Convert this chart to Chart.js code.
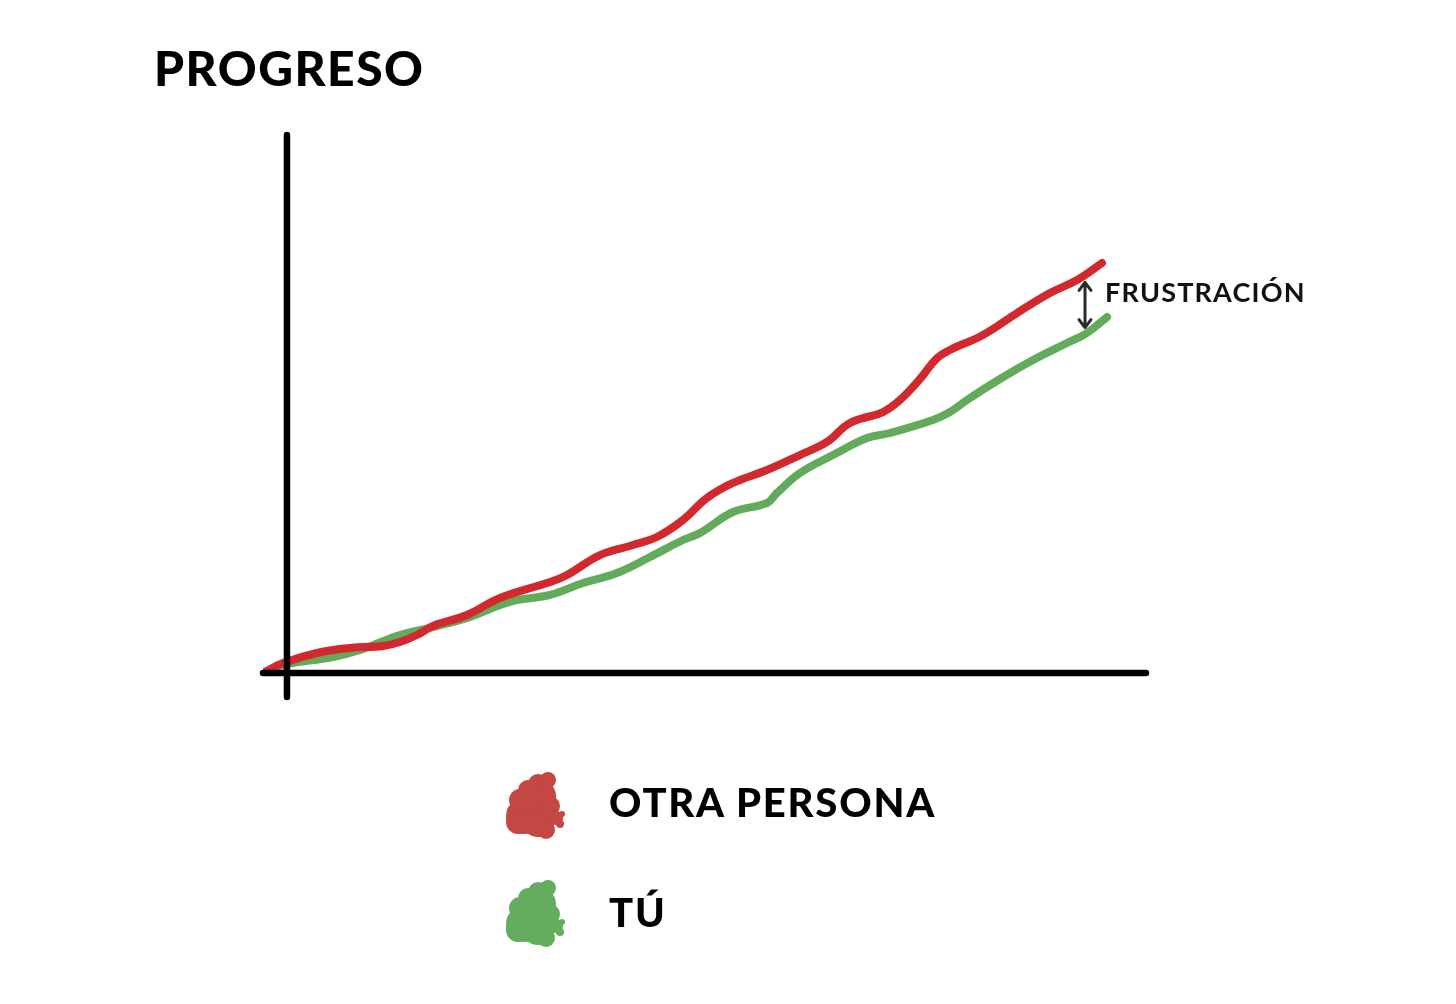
<!DOCTYPE html>
<html>
<head>
<meta charset="utf-8">
<script src="https://cdn.jsdelivr.net/npm/chart.js@4/dist/chart.umd.min.js"></script>
<style>
  html,body{margin:0;padding:0;background:#fff;}
  #wrap{position:relative;width:1456px;height:1004px;overflow:hidden;}
  canvas{position:absolute;left:0;top:0;}
  .txt{position:absolute;font-family:Lato,"Open Sans",sans-serif;color:#000;white-space:nowrap;line-height:1;}
  #title{left:154px;top:44px;font-size:48px;font-weight:900;letter-spacing:1.5px;}
  #annot{left:1105px;top:278px;font-size:27px;font-weight:700;letter-spacing:1.2px;color:#111;}
  .leg{left:609px;font-size:40px;font-weight:900;letter-spacing:1.8px;}
</style>
</head>
<body>
<div id="wrap">
  <canvas id="c" width="1456" height="1004"></canvas>
  <div id="title" class="txt"></div>
  <div id="annot" class="txt"></div>
  <div id="leg0" class="txt leg" style="top:782px"></div>
  <div id="leg1" class="txt leg" style="top:892px"></div>
</div>
<script>
// ---- data ----
const titleText = "PROGRESO";
const annotationText = "FRUSTRACIÓN";
const seriesNames = ["OTRA PERSONA", "TÚ"];

const otherX = [-2.56,-0.47,3.49,7.33,11.18,13.15,15.13,16.99,20.95,24.80,30.62,32.60,36.44,40.28,43.07,46.10,48.89,51.92,55.88,59.72,62.86,65.54,69.38,71.36,73.69,75.67,77.18,81.02,84.98,88.82,91.97,94.88];
const otherY = [0.19,1.86,3.72,4.65,5.02,5.76,7.06,8.74,10.78,13.94,16.91,18.22,21.93,23.79,25.28,28.44,32.53,35.32,37.73,40.52,42.94,46.47,48.51,50.74,54.65,58.55,60.04,62.83,66.91,70.63,73.05,76.21];

const youX = [-2.56,-0.47,5.36,8.50,13.15,17.00,20.95,24.80,26.78,30.62,34.46,38.42,42.26,46.10,48.08,51.92,55.88,57.04,59.72,63.56,67.52,70.20,75.20,77.18,79.16,83.00,86.85,90.80,93.13,95.46];
const youY = [0.19,1.49,2.97,4.28,7.06,8.55,10.22,12.64,13.57,14.50,16.73,18.59,21.56,24.72,26.02,29.93,31.60,33.46,37.17,40.52,43.68,44.61,47.03,48.51,50.74,54.65,58.18,61.34,63.20,66.17];

// gap annotation (x position, from / to values)
const gapX = 92.9;
const gapTop = 72.6;
const gapBottom = 64.2;

// ---- styles ----
const colors = ["#d2292e", "#62aa5c"];
const blobColors = ["#c44744", "#64ad5f"];

document.getElementById('title').textContent = titleText;
document.getElementById('annot').textContent = annotationText;
document.getElementById('leg0').textContent = seriesNames[0];
document.getElementById('leg1').textContent = seriesNames[1];

function pts(xs, ys){ return xs.map((x,i)=>({x:x, y:ys[i]})); }

const axesPlugin = {
  id:'handAxes',
  afterDatasetsDraw(chart){
    const {ctx, chartArea, scales} = chart;
    const x0 = scales.x.getPixelForValue(0);
    const y0 = scales.y.getPixelForValue(0);
    ctx.save();
    ctx.strokeStyle = '#000';
    ctx.lineWidth = 6.5;
    ctx.lineCap = 'round';
    ctx.beginPath();
    ctx.moveTo(x0, chartArea.top);
    ctx.lineTo(x0, chartArea.bottom);
    ctx.moveTo(chartArea.left, y0);
    ctx.lineTo(chartArea.right, y0);
    ctx.stroke();

    // gap arrow
    const ax = scales.x.getPixelForValue(gapX);
    const at = scales.y.getPixelForValue(gapTop);
    const ab = scales.y.getPixelForValue(gapBottom);
    ctx.strokeStyle = '#2a2a2a';
    ctx.lineWidth = 3;
    ctx.lineJoin = 'round';
    ctx.beginPath();
    ctx.moveTo(ax, at); ctx.lineTo(ax, ab);
    ctx.moveTo(ax-6, at+8); ctx.lineTo(ax, at); ctx.lineTo(ax+6, at+8);
    ctx.moveTo(ax-6, ab-8); ctx.lineTo(ax, ab); ctx.lineTo(ax+6, ab-8);
    ctx.stroke();
    ctx.restore();
  },
  afterDraw(chart){
    // legend blobs
    const ctx = chart.ctx;
    const centers = [[534, 806], [534, 914]];
    centers.forEach((c, i) => {
      ctx.save();
      ctx.fillStyle = blobColors[i];
      const [cx, cy] = c;
      const parts = [[-10,10,18],[4,14,17],[6,-10,16],[-14,-6,11],[-16,16,12],[12,24,9],[16,0,10],[22,12,7],[4,-22,10],[14,-26,8],[-6,-16,10],[26,18,4],[28,8,3]];
      parts.forEach(p => { ctx.beginPath(); ctx.arc(cx+p[0], cy+p[1], p[2], 0, Math.PI*2); ctx.fill(); });
      ctx.restore();
    });
  }
};

new Chart(document.getElementById('c'), {
  type:'line',
  data:{
    datasets:[
      {label:seriesNames[0], data:pts(otherX, otherY), borderColor:colors[0], borderWidth:8, pointRadius:0, tension:0.4, fill:false, borderCapStyle:'round', borderJoinStyle:'round'},
      {label:seriesNames[1], data:pts(youX, youY), borderColor:colors[1], borderWidth:8, pointRadius:0, tension:0.4, fill:false, borderCapStyle:'round', borderJoinStyle:'round'}
    ]
  },
  options:{
    responsive:false,
    animation:false,
    layout:{padding:{left:263, right:310, top:135, bottom:307}},
    plugins:{legend:{display:false}, tooltip:{enabled:false}, title:{display:false}},
    scales:{
      x:{type:'linear', min:-2.79, max:100, display:false},
      y:{type:'linear', min:-4.46, max:100, display:false}
    }
  },
  plugins:[axesPlugin]
});
</script>
</body>
</html>
